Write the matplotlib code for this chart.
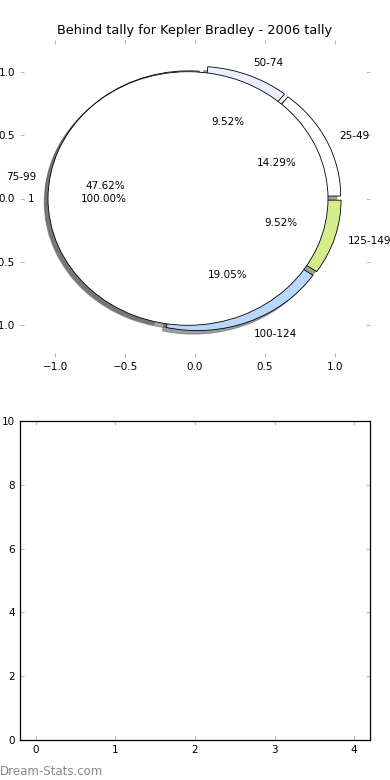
import matplotlib
matplotlib.use("Agg")
import matplotlib.pyplot as plt

title = "Behind tally for Kepler Bradley - 2006 tally"
labels = ["25-49", "50-74", "75-99", "100-124", "125-149"]
counts = [3, 2, 10, 4, 2]
colors = ["#ffffff", "#e9effb", "#ffffff", "#b9d7fb", "#d3ec8c"]
explode = [0.045, 0.045, 0.045, 0.045, 0.045]
total_labels = ["1"]
total_values = [1]
bottom_xticks = [0, 1, 2, 3, 4]
bottom_yticks = [0, 2, 4, 6, 8, 10]

plt.rcParams["font.family"] = ["DejaVu Sans"]
fs = 7.5
fig = plt.figure(figsize=(3.9, 7.8), dpi=100)

ax1 = fig.add_axes([20/390, 1-357/780, 350/390, 317/780])
ax1.pie(counts, labels=labels, colors=colors, explode=explode, autopct="%1.2f%%",
        shadow=True, startangle=0, frame=True,
        wedgeprops=dict(edgecolor="black", linewidth=0.6),
        textprops=dict(fontsize=fs))
ax1.pie(total_values, labels=total_labels, colors=["white"], explode=[0.05],
        autopct="%1.2f%%", shadow=True, startangle=0, frame=True,
        wedgeprops=dict(edgecolor="black", linewidth=0.6),
        textprops=dict(fontsize=fs))
ax1.set_aspect("auto")
ax1.set_xlim(-1.25, 1.25)
ax1.set_ylim(-1.25, 1.25)
ax1.set_xticks([-1.0, -0.5, 0.0, 0.5, 1.0])
ax1.set_yticks([-1.0, -0.5, 0.0, 0.5, 1.0])
for s in ax1.spines.values():
    s.set_visible(False)
ax1.tick_params(direction="in", length=3, color="#bbbbbb", labelsize=fs,
                top=True, right=True)
ax1.set_title(title, fontsize=9.3, pad=4)

ax2 = fig.add_axes([20/390, 40/780, 350/390, 319/780])
ax2.set_xlim(-0.2, 4.2)
ax2.set_ylim(0, 10)
ax2.set_xticks(bottom_xticks)
ax2.set_yticks(bottom_yticks)
ax2.tick_params(direction="in", length=3, color="#bbbbbb", labelsize=fs,
                top=True, right=True)
for s in ax2.spines.values():
    s.set_linewidth(0.9)

fig.text(0.0, 5/780, "Dream-Stats.com", fontsize=8.5, color="#888888",
         ha="left", va="baseline")

fig.savefig("out.png", dpi=100)
